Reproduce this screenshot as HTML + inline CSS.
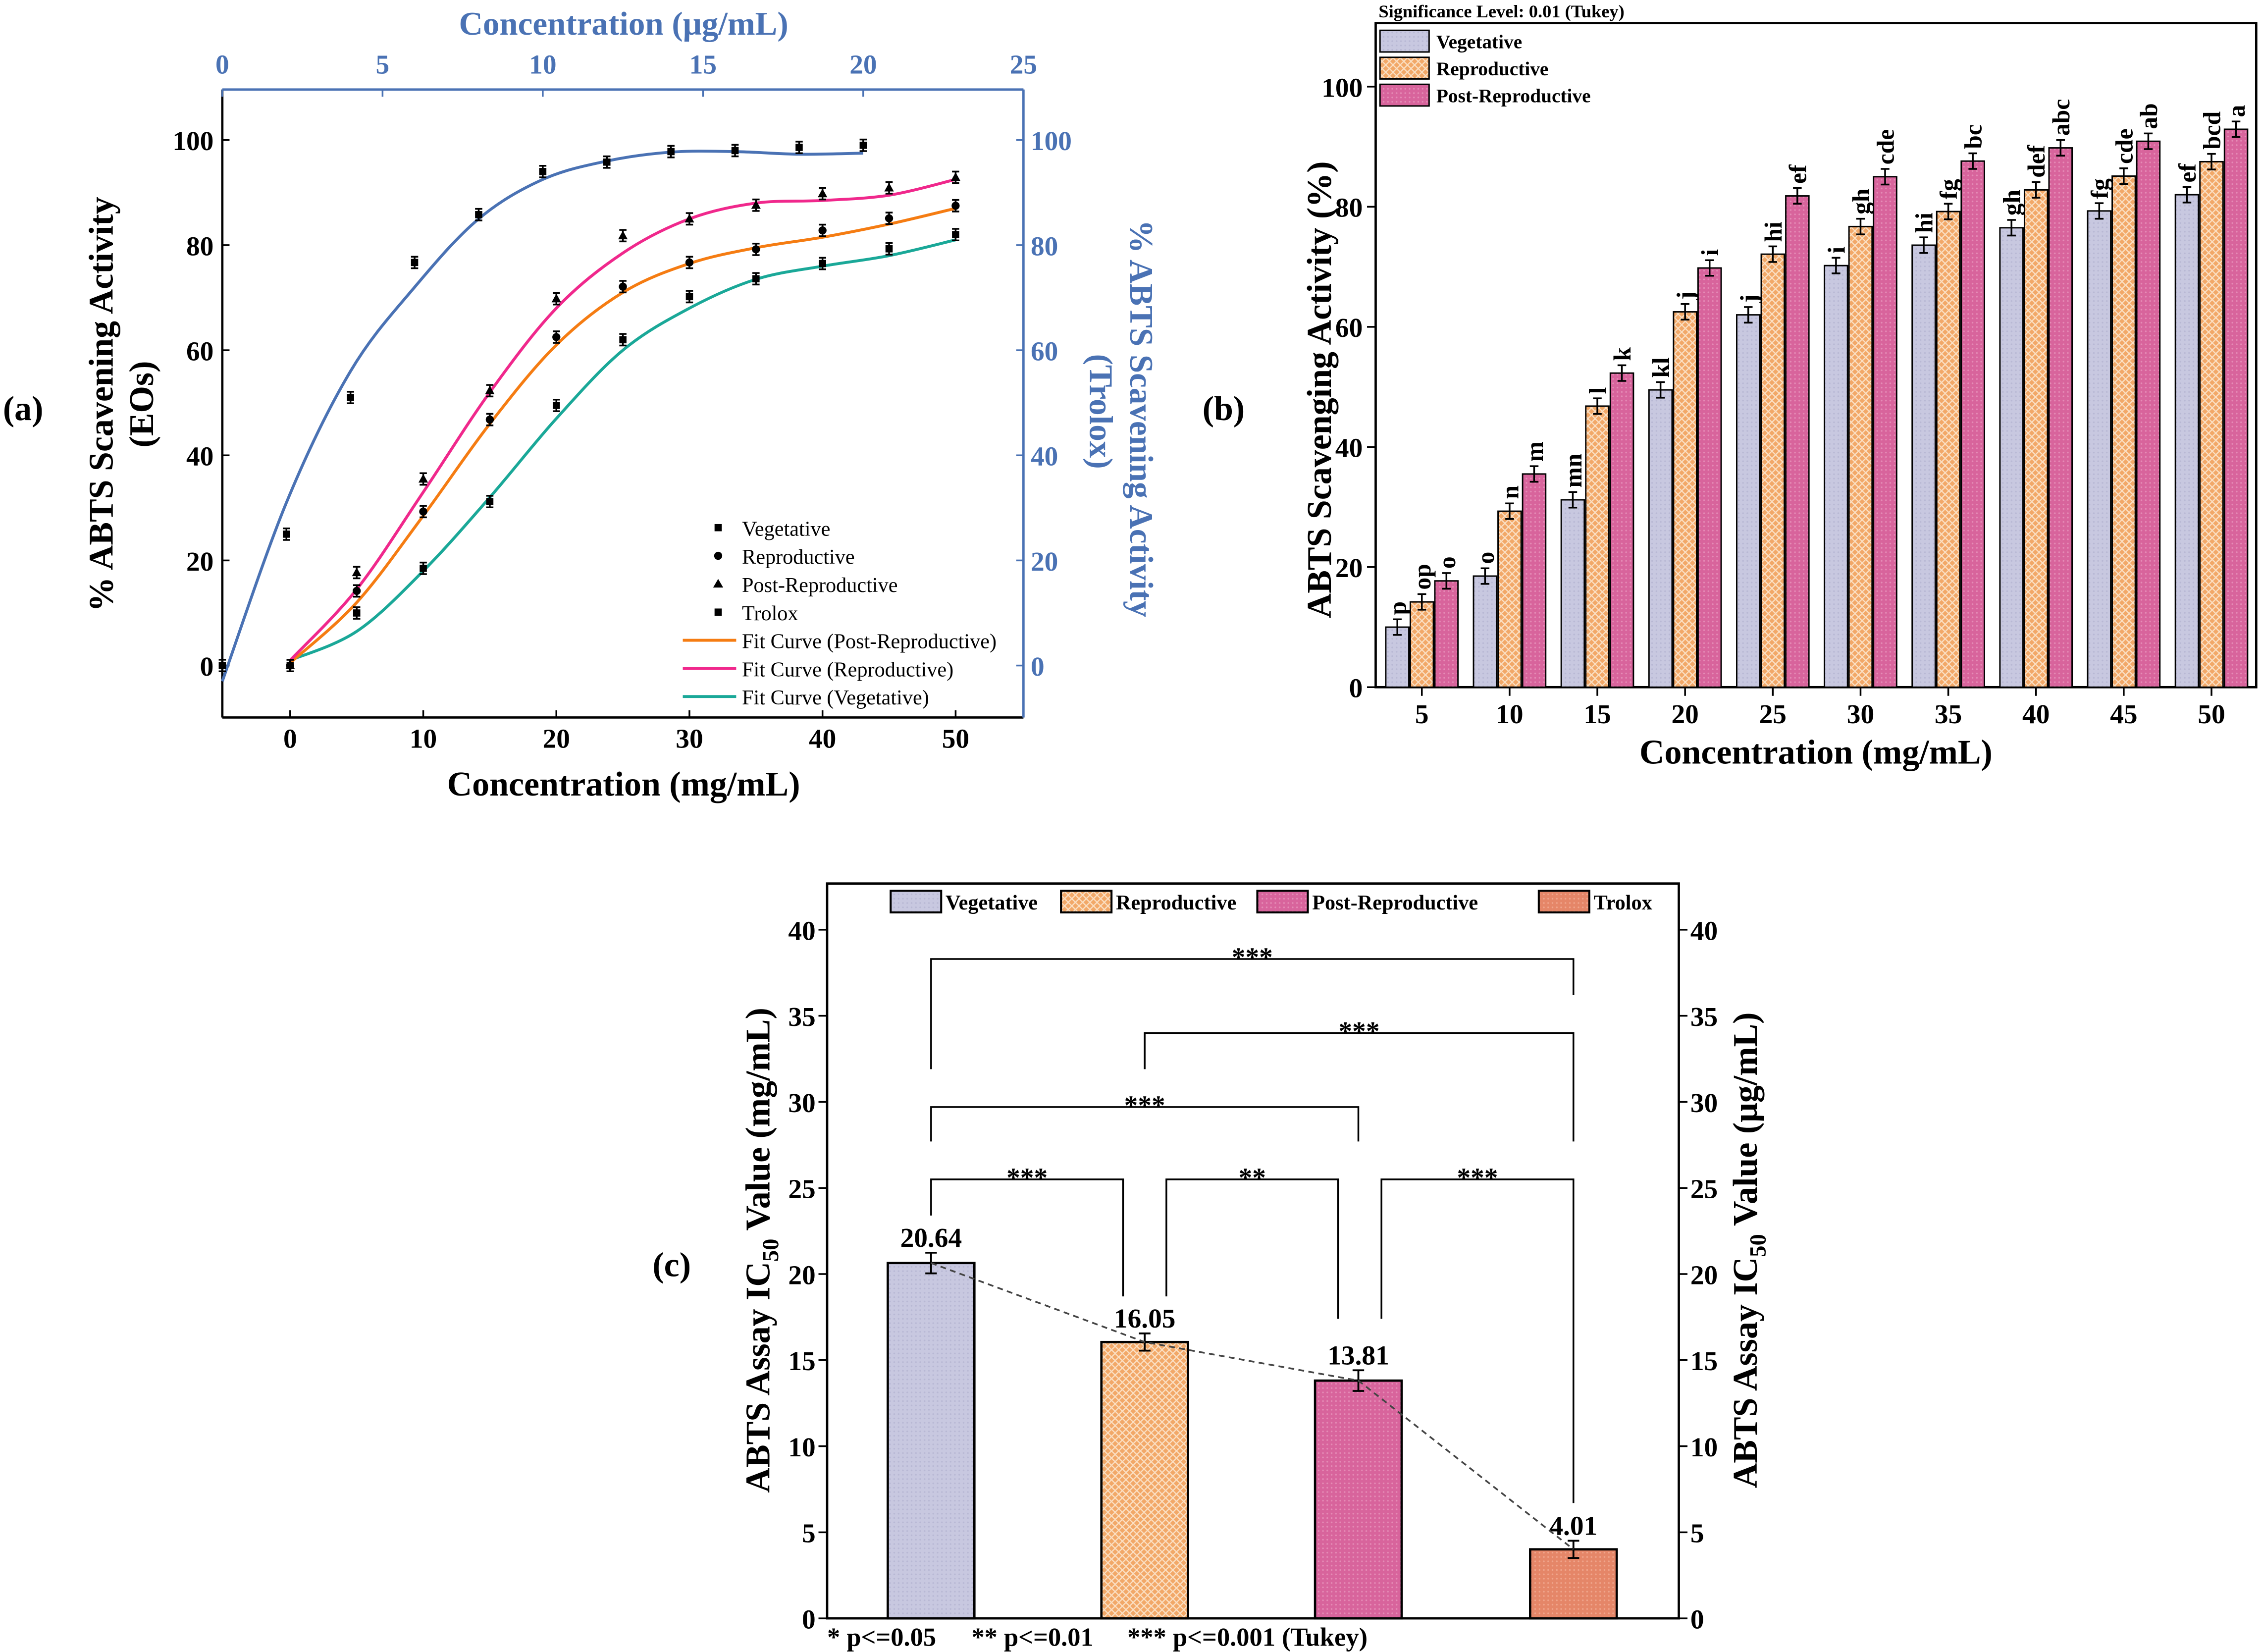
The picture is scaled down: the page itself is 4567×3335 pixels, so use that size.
<!DOCTYPE html>
<html><head><meta charset="utf-8"><style>
html,body{margin:0;padding:0;background:#fff;}
svg{display:block;}
text{font-family:"Liberation Serif",serif;}
.b{font-weight:bold;}
</style></head><body>
<svg id="fig" xmlns="http://www.w3.org/2000/svg" width="4567" height="3335" viewBox="0 0 1567 1144.3">
<defs>
<pattern id="hatch" width="5" height="5" patternUnits="userSpaceOnUse">
<rect width="5" height="5" fill="#f2a868"/>
<path d="M0,0L5,5M5,0L0,5" stroke="#fbe0c4" stroke-width="0.8"/>
</pattern>
<pattern id="dotv" width="3" height="3" patternUnits="userSpaceOnUse">
<rect width="3" height="3" fill="#c8c8e0"/><circle cx="1.5" cy="1.5" r="0.6" fill="#b8b8d4"/>
</pattern>
<pattern id="dotp" width="3" height="3" patternUnits="userSpaceOnUse">
<rect width="3" height="3" fill="#d8649c"/><circle cx="1.5" cy="1.5" r="0.6" fill="#e58bb6"/>
</pattern>
<pattern id="dott" width="3" height="3" patternUnits="userSpaceOnUse">
<rect width="3" height="3" fill="#e58668"/><circle cx="1.5" cy="1.5" r="0.6" fill="#f0a58c"/>
</pattern>
</defs>
<g id="pa"></g>
<g id="pb"></g>
<g id="pc"></g>
</svg>
<script>
// ---------- Panel (a) data ----------
const aConc = [0,5,10,15,20,25,30,35,40,45,50];
const aVeg = [0,10,18.5,31.2,49.5,62,70.2,73.6,76.5,79.3,82];
const aRep = [0,14.2,29.3,46.8,62.5,72.1,76.7,79.2,82.8,85.1,87.5];
const aPost = [0,17.7,35.5,52.3,69.8,81.8,85,87.6,89.8,90.9,92.9];
const aVegFit = [1,6.5,18,32,47,60,68,73.5,76,78,81];
const aRepFit = [0.5,12,28.5,46,61,71,76.5,79.5,81.5,84,87];
const aPostFit = [1,14.5,33,52,68,78.5,85,88,88.5,89.5,92.5];
const trolConc = [0,2,4,6,8,10,12,14,16,18,20];
const trolVal = [0,25,51,76.7,85.8,94,95.8,97.8,98,98.6,99];
const trolFitConc = [0,2,4,6,8,10,12,14,16,18,20];
const trolFitVal = [-3,31,56,72,85,92.5,96,97.7,97.8,97.3,97.5];
const aXTicks = [0,10,20,30,40,50];
const aYTicks = [0,20,40,60,80,100];
const aTopTicks = [0,5,10,15,20,25];
// ---------- Panel (b) data ----------
const bConc = [5,10,15,20,25,30,35,40,45,50];
const bVeg = [10,18.5,31.2,49.5,62,70.2,73.6,76.5,79.3,82];
const bRep = [14.2,29.3,46.8,62.5,72.1,76.7,79.2,82.8,85.1,87.5];
const bPost = [17.7,35.5,52.3,69.8,81.8,85,87.6,89.8,90.9,92.9];
const bVegLet = ["p","o","mn","kl","j","i","hi","gh","fg","ef"];
const bRepLet = ["op","n","l","j","hi","gh","fg","def","cde","bcd"];
const bPostLet = ["o","m","k","i","ef","cde","bc","abc","ab","a"];
const bYTicks = [0,20,40,60,80,100];
// ---------- Panel (c) data ----------
const cCats = ["Vegetative","Reproductive","Post-Reproductive","Trolox"];
const cVals = [20.64,16.05,13.81,4.01];
const cErr = [0.6,0.5,0.6,0.5];
const cYTicks = [0,5,10,15,20,25,30,35,40];

const NS="http://www.w3.org/2000/svg";
function mk(tag, attrs, parent, txt){
  const e=document.createElementNS(NS,tag);
  for(const k in attrs) e.setAttribute(k,attrs[k]);
  if(txt!==undefined) e.textContent=txt;
  parent.appendChild(e); return e;
}
function smooth(pts){
  let d="M"+pts[0][0]+","+pts[0][1];
  for(let i=0;i<pts.length-1;i++){
    const p0=pts[Math.max(0,i-1)],p1=pts[i],p2=pts[i+1],p3=pts[Math.min(pts.length-1,i+2)];
    const c1=[p1[0]+(p2[0]-p0[0])/6,p1[1]+(p2[1]-p0[1])/6];
    const c2=[p2[0]-(p3[0]-p1[0])/6,p2[1]-(p3[1]-p1[1])/6];
    d+="C"+c1[0]+","+c1[1]+" "+c2[0]+","+c2[1]+" "+p2[0]+","+p2[1];
  }
  return d;
}
const BLUE="#4a72b4";

// ================= PANEL A =================
(function(){
const g=document.getElementById('pa');
const xA=v=>201+v*9.22, yA=v=>461-v*3.64, xT=u=>154+u*22.2;
let e;
e=mk('text',{x:2,y:291,'font-size':24,class:'b'},g,'(a)');


e=mk('line',{x1:154,y1:62,x2:154,y2:497,stroke:'#000','stroke-width':1.6},g);


e=mk('line',{x1:154,y1:497,x2:709,y2:497,stroke:'#000','stroke-width':1.6},g);


e=mk('line',{x1:154,y1:62,x2:709,y2:62,stroke:BLUE,'stroke-width':1.6},g);


e=mk('line',{x1:709,y1:62,x2:709,y2:497,stroke:BLUE,'stroke-width':1.6},g);


aXTicks.forEach(v=>{
  e=mk('line',{x1:xA(v),y1:497,x2:xA(v),y2:492,stroke:'#000','stroke-width':1.2},g);
  
  
  e=mk('text',{x:xA(v),y:518,'font-size':19,class:'b','text-anchor':'middle'},g,String(v));
  
  
});
aYTicks.forEach(v=>{
  e=mk('line',{x1:154,y1:yA(v),x2:159,y2:yA(v),stroke:'#000','stroke-width':1.2},g);
  
  
  e=mk('text',{x:148,y:yA(v)+7,'font-size':19,class:'b','text-anchor':'end'},g,String(v));
  
  
  e=mk('line',{x1:704,y1:yA(v),x2:709,y2:yA(v),stroke:BLUE,'stroke-width':1.2},g);
  
  
  e=mk('text',{x:714,y:yA(v)+7,'font-size':19,class:'b',fill:BLUE},g,String(v));
  
  
});
aTopTicks.forEach(u=>{
  e=mk('line',{x1:xT(u),y1:62,x2:xT(u),y2:67,stroke:BLUE,'stroke-width':1.2},g);
  
  
  e=mk('text',{x:xT(u),y:51,'font-size':19,class:'b',fill:BLUE,'text-anchor':'middle'},g,String(u));
  
  
});
e=mk('text',{x:432,y:551,'font-size':24,class:'b','text-anchor':'middle'},g,'Concentration (mg/mL)');


e=mk('text',{x:432,y:24,'font-size':23,class:'b',fill:BLUE,'text-anchor':'middle'},g,'Concentration (μg/mL)');


e=mk('text',{x:0,y:0,'font-size':24,class:'b','text-anchor':'middle',transform:'translate(78,280) rotate(-90)'},g,'% ABTS Scavening Activity');


e=mk('text',{x:0,y:0,'font-size':24,class:'b','text-anchor':'middle',transform:'translate(106,280) rotate(-90)'},g,'(EOs)');


e=mk('text',{x:0,y:0,'font-size':23,class:'b',fill:BLUE,'text-anchor':'middle',transform:'translate(783,290) rotate(90)'},g,'% ABTS Scavening Activity');


e=mk('text',{x:0,y:0,'font-size':23,class:'b',fill:BLUE,'text-anchor':'middle',transform:'translate(755,285) rotate(90)'},g,'(Trolox)');


function fit(xs,ys,xf,col,name){
  const pts=xs.map((x,i)=>[xf(x),yA(ys[i])]);
  const p=mk('path',{d:smooth(pts),fill:'none',stroke:col,'stroke-width':2},g);
  
  
}
fit(trolFitConc,trolFitVal,xT,BLUE,'trolox-fit-curve');
fit(aConc,aVegFit,xA,'#1aa898','vegetative-fit-curve');
fit(aConc,aRepFit,xA,'#f57c12','reproductive-fit-curve');
fit(aConc,aPostFit,xA,'#f0288c','post-reproductive-fit-curve');
function pts(xs,ys,xf,shape,name){
  xs.forEach((x,i)=>{
    const cx=xf(x), cy=yA(ys[i]);
    const eb=mk('path',{d:`M${cx},${cy-4}V${cy+4}M${cx-2.5},${cy-4}H${cx+2.5}M${cx-2.5},${cy+4}H${cx+2.5}`,stroke:'#000','stroke-width':1.2,fill:'none'},g);
    
    
    let m;
    if(shape==='sq') m=mk('rect',{x:cx-2.5,y:cy-2.5,width:5,height:5,fill:'#000'},g);
    else if(shape==='c') m=mk('circle',{cx:cx,cy:cy,r:2.8,fill:'#000'},g);
    else m=mk('path',{d:`M${cx},${cy-3.5}L${cx+3.3},${cy+2.5}L${cx-3.3},${cy+2.5}Z`,fill:'#000'},g);
    
    
  });
}
pts(trolConc,trolVal,xT,'sq','trolox');
pts(aConc,aVeg,xA,'sq','vegetative');
pts(aConc,aRep,xA,'c','reproductive');
pts(aConc,aPost,xA,'t','post-reproductive');
const leg=[['sq','Vegetative'],['c','Reproductive'],['t','Post-Reproductive'],['sq','Trolox'],['#f57c12','Fit Curve (Post-Reproductive)'],['#f0288c','Fit Curve (Reproductive)'],['#1aa898','Fit Curve (Vegetative)']];
leg.forEach((l,i)=>{
  const y=370+i*19.5;
  let m;
  if(l[0]==='sq') m=mk('rect',{x:495,y:y-7,width:5,height:5,fill:'#000'},g);
  else if(l[0]==='c') m=mk('circle',{cx:497.5,cy:y-4.5,r:2.8,fill:'#000'},g);
  else if(l[0]==='t') m=mk('path',{d:`M497.5,${y-8}L501,${y-2}L494,${y-2}Z`,fill:'#000'},g);
  else m=mk('line',{x1:473,y1:y-4.5,x2:510,y2:y-4.5,stroke:l[0],'stroke-width':2},g);
  
  
  const t=mk('text',{x:514,y:y+1,'font-size':14.5},g,l[1]);
  
  
});
})();

// ================= PANEL B =================
(function(){
const g=document.getElementById('pb');
const yB=v=>476-v*4.16, gx=i=>985+i*60.78;
const BW=16, offs=[-17,0,17];
let e;
e=mk('text',{x:833,y:291,'font-size':24,class:'b'},g,'(b)');


e=mk('text',{x:955,y:12,'font-size':12.5,class:'b'},g,'Significance Level: 0.01 (Tukey)');


e=mk('rect',{x:953,y:16,width:610,height:460,fill:'none',stroke:'#000','stroke-width':1.6},g);


bYTicks.forEach(v=>{
  e=mk('line',{x1:947,y1:yB(v),x2:953,y2:yB(v),stroke:'#000','stroke-width':1.2},g);
  
  
  e=mk('text',{x:944,y:yB(v)+7,'font-size':19,class:'b','text-anchor':'end'},g,String(v));
  
  
});
bConc.forEach((c,i)=>{
  e=mk('line',{x1:gx(i),y1:476,x2:gx(i),y2:482,stroke:'#000','stroke-width':1.2},g);
  
  
  e=mk('text',{x:gx(i),y:501,'font-size':19,class:'b','text-anchor':'middle'},g,String(c));
  
  
});
e=mk('text',{x:1258,y:529,'font-size':24,class:'b','text-anchor':'middle'},g,'Concentration (mg/mL)');


e=mk('text',{x:0,y:0,'font-size':24,class:'b','text-anchor':'middle',transform:'translate(922,270) rotate(-90)'},g,'ABTS Scavenging Activity (%)');


const series=[[bVeg,bVegLet,'url(#dotv)','vegetative'],[bRep,bRepLet,'url(#hatch)','reproductive'],[bPost,bPostLet,'url(#dotp)','post-reproductive']];
series.forEach((s,si)=>{
  s[0].forEach((v,i)=>{
    const cx=gx(i)+offs[si];
    const r=mk('rect',{x:cx-BW/2,y:yB(v),width:BW,height:476-yB(v),fill:s[2],stroke:'#000','stroke-width':1},g);
    
    
    const t=yB(v+1.3), b=yB(v-1.3);
    const eb=mk('path',{d:`M${cx},${t}V${b}M${cx-3},${t}H${cx+3}M${cx-3},${b}H${cx+3}`,stroke:'#000','stroke-width':1.2,fill:'none'},g);
    
    
    const lt=mk('text',{x:0,y:0,'font-size':17,class:'b',transform:`translate(${cx+6},${t-3}) rotate(-90)`},g,s[1][i]);
    
    
  });
});
const legs=[['url(#dotv)','Vegetative'],['url(#hatch)','Reproductive'],['url(#dotp)','Post-Reproductive']];
legs.forEach((l,i)=>{
  const y=21+i*18.7;
  const r=mk('rect',{x:956,y:y,width:34,height:15,fill:l[0],stroke:'#000','stroke-width':1},g);
  
  
  const t=mk('text',{x:995,y:y+12.5,'font-size':13.5,class:'b'},g,l[1]);
  
  
});
})();

// ================= PANEL C =================
(function(){
const g=document.getElementById('pc');
const yC=v=>1121-v*11.925;
const cx=[645,793,941,1090], BW=60;
const fills=['url(#dotv)','url(#hatch)','url(#dotp)','url(#dott)'];
let e;
e=mk('text',{x:452,y:884,'font-size':24,class:'b'},g,'(c)');


e=mk('rect',{x:573,y:612,width:590,height:509,fill:'none',stroke:'#000','stroke-width':1.6},g);


cYTicks.forEach(v=>{
  e=mk('line',{x1:567,y1:yC(v),x2:573,y2:yC(v),stroke:'#000','stroke-width':1.2},g);
  
  
  e=mk('text',{x:565,y:yC(v)+7,'font-size':19,class:'b','text-anchor':'end'},g,String(v));
  
  
  e=mk('line',{x1:1163,y1:yC(v),x2:1169,y2:yC(v),stroke:'#000','stroke-width':1.2},g);
  
  
  e=mk('text',{x:1171,y:yC(v)+7,'font-size':19,class:'b'},g,String(v));
  
  
});
e=mk('text',{x:0,y:0,'font-size':24,class:'b','text-anchor':'middle',transform:'translate(533,866) rotate(-90)'},g);
e.innerHTML='ABTS Assay IC<tspan font-size="16" dy="6">50</tspan><tspan dy="-6"> Value (mg/mL)</tspan>';


e=mk('text',{x:0,y:0,'font-size':24,class:'b','text-anchor':'middle',transform:'translate(1217,866) rotate(-90)'},g);
e.innerHTML='ABTS Assay IC<tspan font-size="16" dy="6">50</tspan><tspan dy="-6"> Value (μg/mL)</tspan>';


const foot=[[573,'* p<=0.05'],[673,'** p<=0.01'],[781,'*** p<=0.001 (Tukey)']];
foot.forEach(f=>{
  e=mk('text',{x:f[0],y:1140,'font-size':18,class:'b'},g,f[1]);
  
  
});
cVals.forEach((v,i)=>{
  const r=mk('rect',{x:cx[i]-BW/2,y:yC(v),width:BW,height:1121-yC(v),fill:fills[i],stroke:'#000','stroke-width':1.6},g);
  
  
  const t=yC(v+cErr[i]), b=yC(v-cErr[i]);
  const eb=mk('path',{d:`M${cx[i]},${t}V${b}M${cx[i]-4},${t}H${cx[i]+4}M${cx[i]-4},${b}H${cx[i]+4}`,stroke:'#000','stroke-width':1.3,fill:'none'},g);
  
  
  const lt=mk('text',{x:cx[i],y:t-4,'font-size':19,class:'b','text-anchor':'middle'},g,v.toFixed(2));
  
  
});
e=mk('polyline',{points:cVals.map((v,i)=>cx[i]+','+yC(v)).join(' '),fill:'none',stroke:'#444','stroke-width':1.2,'stroke-dasharray':'4,3'},g);


const br=[[645,31.9,1090,36.2,38.3,'***'],[793,31.9,1090,27.7,34.0,'***'],[645,27.7,941,27.7,29.7,'***'],[645,23.4,778,18.7,25.5,'***'],[808,18.7,927,17.4,25.5,'**'],[957,17.4,1090,6.7,25.5,'***']];
br.forEach(b=>{
  const p=mk('path',{d:`M${b[0]},${yC(b[1])}V${yC(b[4])}H${b[2]}V${yC(b[3])}`,fill:'none',stroke:'#000','stroke-width':1.2},g);
  
  
  const t=mk('text',{x:(b[0]+b[2])/2,y:yC(b[4])+5,'font-size':19,class:'b','text-anchor':'middle'},g,b[5]);
  
  
});
const lx=[617,735,871,1066];
cCats.forEach((c,i)=>{
  const r=mk('rect',{x:lx[i],y:617,width:35,height:15,fill:fills[i],stroke:'#000','stroke-width':1.4},g);
  
  
  const t=mk('text',{x:lx[i]+38,y:630,'font-size':14.5,class:'b'},g,c);
  
  
});
})();
</script>
</body></html>
